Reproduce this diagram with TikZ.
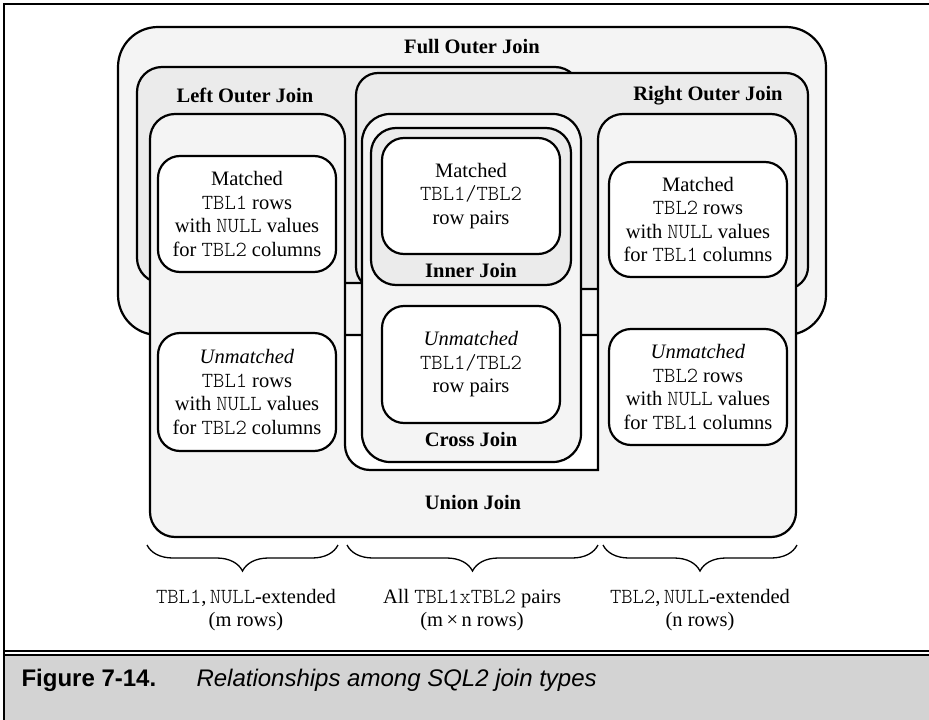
\documentclass[tikz,border=0pt]{standalone}
\usepackage{fontspec}
\setmainfont{Liberation Serif}
\setmonofont[Extension=.otf,Scale=1.05]{lmmonolt10-regular}
\setsansfont{Liberation Sans}
\usepackage{tikz}
\usetikzlibrary{decorations.pathreplacing}

\definecolor{lightfill}{gray}{0.957}
\definecolor{darkfill}{gray}{0.922}
\definecolor{capfill}{gray}{0.827}

\begin{document}
\begin{tikzpicture}[x=1pt,y=-1pt,
    box/.style={draw,line width=2.2pt},
    lbl/.style={font=\fontsize{20.5}{23.5}\selectfont\bfseries},
    txt/.style={font=\fontsize{20.5}{23.5}\selectfont,align=center},
    cell/.style={draw,line width=2.2pt,fill=white,rounded corners=22pt,
      align=center,inner sep=0pt,minimum width=178pt,
      font=\fontsize{20.5}{23.5}\selectfont},
    brc/.style={line width=1.3pt,decorate,decoration={brace,mirror,amplitude=26pt}}]
      \useasboundingbox (0,0) rectangle (929,720);

      % frame and caption strip
      \fill[capfill] (4,655) rectangle (929,720);
      \draw[line width=1.5pt] (4,720) -- (4,4) -- (929,4);
      \draw[line width=1.5pt] (4,651) -- (929,651) (4,655) -- (929,655);

      \draw[box,fill=lightfill,rounded corners=40pt] (118,27) rectangle (826,335);
      \draw[box,fill=darkfill,rounded corners=25pt] (137,67) rectangle (580,283);
      \draw[box,fill=darkfill,rounded corners=22pt] (356,73) rectangle (808,289);

      % union join, open in the middle
      \draw[box,fill=lightfill] (150,300) [rounded corners=25pt] -- (150,114)
      -- (345,114) -- (345,470) [sharp corners] -- (598,470)
      [rounded corners=25pt] -- (598,114) -- (796,114) -- (796,537)
      -- (150,537) -- cycle;

      \draw[box,fill=lightfill,rounded corners=28pt] (362,114) rectangle (581,462);
      \draw[box,fill=darkfill,rounded corners=25pt] (371,128) rectangle (571,285);

      \node[lbl] (full) at (472,47) {Full Outer Join};
      \node[lbl] (left) at (245,95) {Left Outer Join};
      \node[lbl] (right) at (708,96) {Right Outer Join};
      \node[lbl] (inner) at (471,270) {Inner Join};
      \node[lbl] (cross) at (471,439) {Cross Join};
      \node[lbl] (union) at (473,502) {Union Join};

      \node[cell,minimum height=116pt] (lmatch) at (247,214)
        {Matched\\\texttt{TBL1} rows\\with \texttt{NULL} values\\for \texttt{TBL2} columns};
      \node[cell,minimum height=118pt] (lunmatch) at (247,392)
        {\textit{Unmatched}\\\texttt{TBL1} rows\\with \texttt{NULL} values\\for \texttt{TBL2} columns};
      \node[cell,minimum height=116pt] (pmatch) at (471,196)
        {Matched\\\texttt{TBL1/TBL2}\\row pairs};
      \node[cell,minimum height=117pt] (punmatch) at (471,364.5)
        {\textit{Unmatched}\\\texttt{TBL1/TBL2}\\row pairs};
      \node[cell,minimum height=115pt] (rmatch) at (698,219.5)
        {Matched\\\texttt{TBL2} rows\\with \texttt{NULL} values\\for \texttt{TBL1} columns};
      \node[cell,minimum height=116pt] (runmatch) at (698,387)
        {\textit{Unmatched}\\\texttt{TBL2} rows\\with \texttt{NULL} values\\for \texttt{TBL1} columns};

      \draw[brc] (147,545) -- (338,545);
      \draw[brc] (347,545) -- (598,545);
      \draw[brc] (603,545) -- (797,545);

      \node[txt] (lrows) at (246,610) {\texttt{TBL1},\,\texttt{NULL}-extended\\(m rows)};
      \node[txt] (prows) at (472,610) {All \texttt{TBL1xTBL2} pairs\\(m\,×\,n rows)};
      \node[txt] (rrows) at (700,610) {\texttt{TBL2},\,\texttt{NULL}-extended\\(n rows)};

      \node[anchor=base west,font=\fontsize{24}{28}\selectfont\sffamily\bfseries]
        (fig) at (18,686) {Figure 7-14.};
      \node[anchor=base west,font=\fontsize{24}{28}\selectfont\sffamily\itshape]
        (caption) at (193,686) {Relationships among SQL2 join types};
    \end{tikzpicture}
\end{document}
